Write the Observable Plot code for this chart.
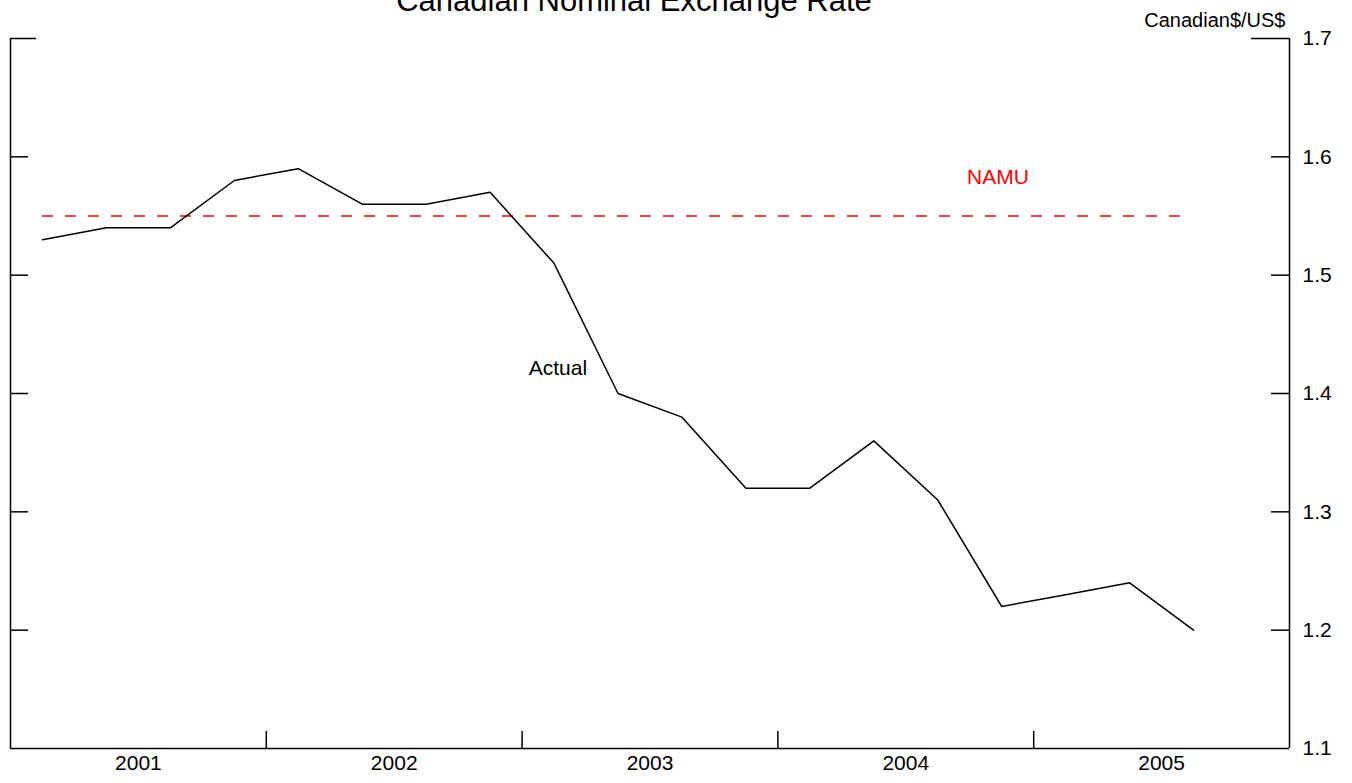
<!DOCTYPE html>
<html>
<head>
<meta charset="utf-8">
<script src="https://cdn.jsdelivr.net/npm/d3@7"></script>
<script src="https://cdn.jsdelivr.net/npm/@observablehq/plot@0.6"></script>
<style>
  html, body { margin: 0; padding: 0; background: #fff; }
  #chart svg { display: block; }
</style>
</head>
<body>
<div id="chart"></div>
<script>
// ---- data ----
const title = "Canadian Nominal Exchange Rate";
const unitLabel = "Canadian$/US$";
const periods = ["2001Q1","2001Q2","2001Q3","2001Q4",
                 "2002Q1","2002Q2","2002Q3","2002Q4",
                 "2003Q1","2003Q2","2003Q3","2003Q4",
                 "2004Q1","2004Q2","2004Q3","2004Q4",
                 "2005Q1","2005Q2","2005Q3"];
const actual = [1.53,1.54,1.54,1.58,
                1.59,1.56,1.56,1.57,
                1.51,1.40,1.38,1.32,
                1.32,1.36,1.31,1.22,
                1.23,1.24,1.20];
const namu = 1.55;
const years = [2001, 2002, 2003, 2004, 2005];
const yTicks = [1.1, 1.2, 1.3, 1.4, 1.5, 1.6, 1.7];
const seriesLabels = ["Actual", "NAMU"];
const labelX = [2003.14, 2004.86];
const labelY = [1.421, 1.5825];

// ---- derived ----
const toT = p => +p.slice(0, 4) + (+p.slice(5) - 0.5) / 4;
const series = periods.map((p, i) => ({t: toT(p), v: actual[i]}));
const yearMid = years.map(y => y + 0.5);
const yearBounds = years.slice(1);
const innerY = yTicks.filter(v => v > yTicks[0] && v < yTicks[yTicks.length - 1]);
const topY = yTicks[yTicks.length - 1];
const labels = seriesLabels.map((s, i) => ({s, x: labelX[i], y: labelY[i]}));

const W = 1352, H = 783;
const mL = 10, mR = 63, mT = 38, mB = 35;
const fw = W - mL - mR, fh = H - mT - mB;

const chart = Plot.plot({
  width: W,
  height: H,
  marginLeft: mL,
  marginRight: mR,
  marginTop: mT,
  marginBottom: mB,
  style: {fontFamily: "'Liberation Sans', Arial, sans-serif", color: "#000", background: "#fff"},
  x: {domain: [years[0], years[years.length - 1] + 1]},
  y: {domain: [yTicks[0], topY]},
  marks: [
    Plot.axisY(yTicks, {anchor: "right", tickSize: 0, tickPadding: 13, fontSize: 21, tickFormat: d3.format(".1f"), label: null}),
    Plot.axisX(yearMid, {anchor: "bottom", tickSize: 0, tickPadding: 7, fontSize: 21, tickFormat: d => String(Math.floor(d)), label: null}),
    // frame: left, right, bottom
    Plot.ruleX([years[0], years[years.length - 1] + 1], {stroke: "#000", strokeWidth: 1.5}),
    Plot.ruleY([yTicks[0]], {stroke: "#000", strokeWidth: 1.5}),
    // inner y ticks
    Plot.ruleY(innerY, {insetRight: fw - 18, stroke: "#000", strokeWidth: 1.5}),
    Plot.ruleY(innerY, {insetLeft: fw - 18, stroke: "#000", strokeWidth: 1.5}),
    Plot.ruleY([topY], {insetRight: fw - 26, stroke: "#000", strokeWidth: 1.5}),
    Plot.ruleY([topY], {insetLeft: fw - 38, stroke: "#000", strokeWidth: 1.5}),
    // year boundary ticks
    Plot.ruleX(yearBounds, {insetTop: fh - 17, stroke: "#000", strokeWidth: 1.5}),
    // NAMU
    Plot.ruleY([namu], {x1: series[0].t, x2: series[series.length - 1].t, insetRight: 10, stroke: "#ff0000", strokeWidth: 1.6, strokeDasharray: "11,12"}),
    // Actual
    Plot.line(series, {x: "t", y: "v", stroke: "#000", strokeWidth: 1.5}),
    // labels
    Plot.text(labels, {x: "x", y: "y", text: "s", fontSize: 21, fill: d => d.s === "NAMU" ? "#ff0000" : "#000", textAnchor: "middle", lineAnchor: "middle"}),
    Plot.text([unitLabel], {frameAnchor: "top-right", text: d => d, fontSize: 20, textAnchor: "end", lineAnchor: "bottom", dx: -4, dy: -12, fill: "#000"}),
    Plot.text([title], {frameAnchor: "top", text: d => d, fontSize: 31, textAnchor: "middle", lineAnchor: "bottom", dx: -16, dy: -28, fill: "#000"})
  ]
});
document.getElementById("chart").append(chart);
</script>
</body>
</html>
